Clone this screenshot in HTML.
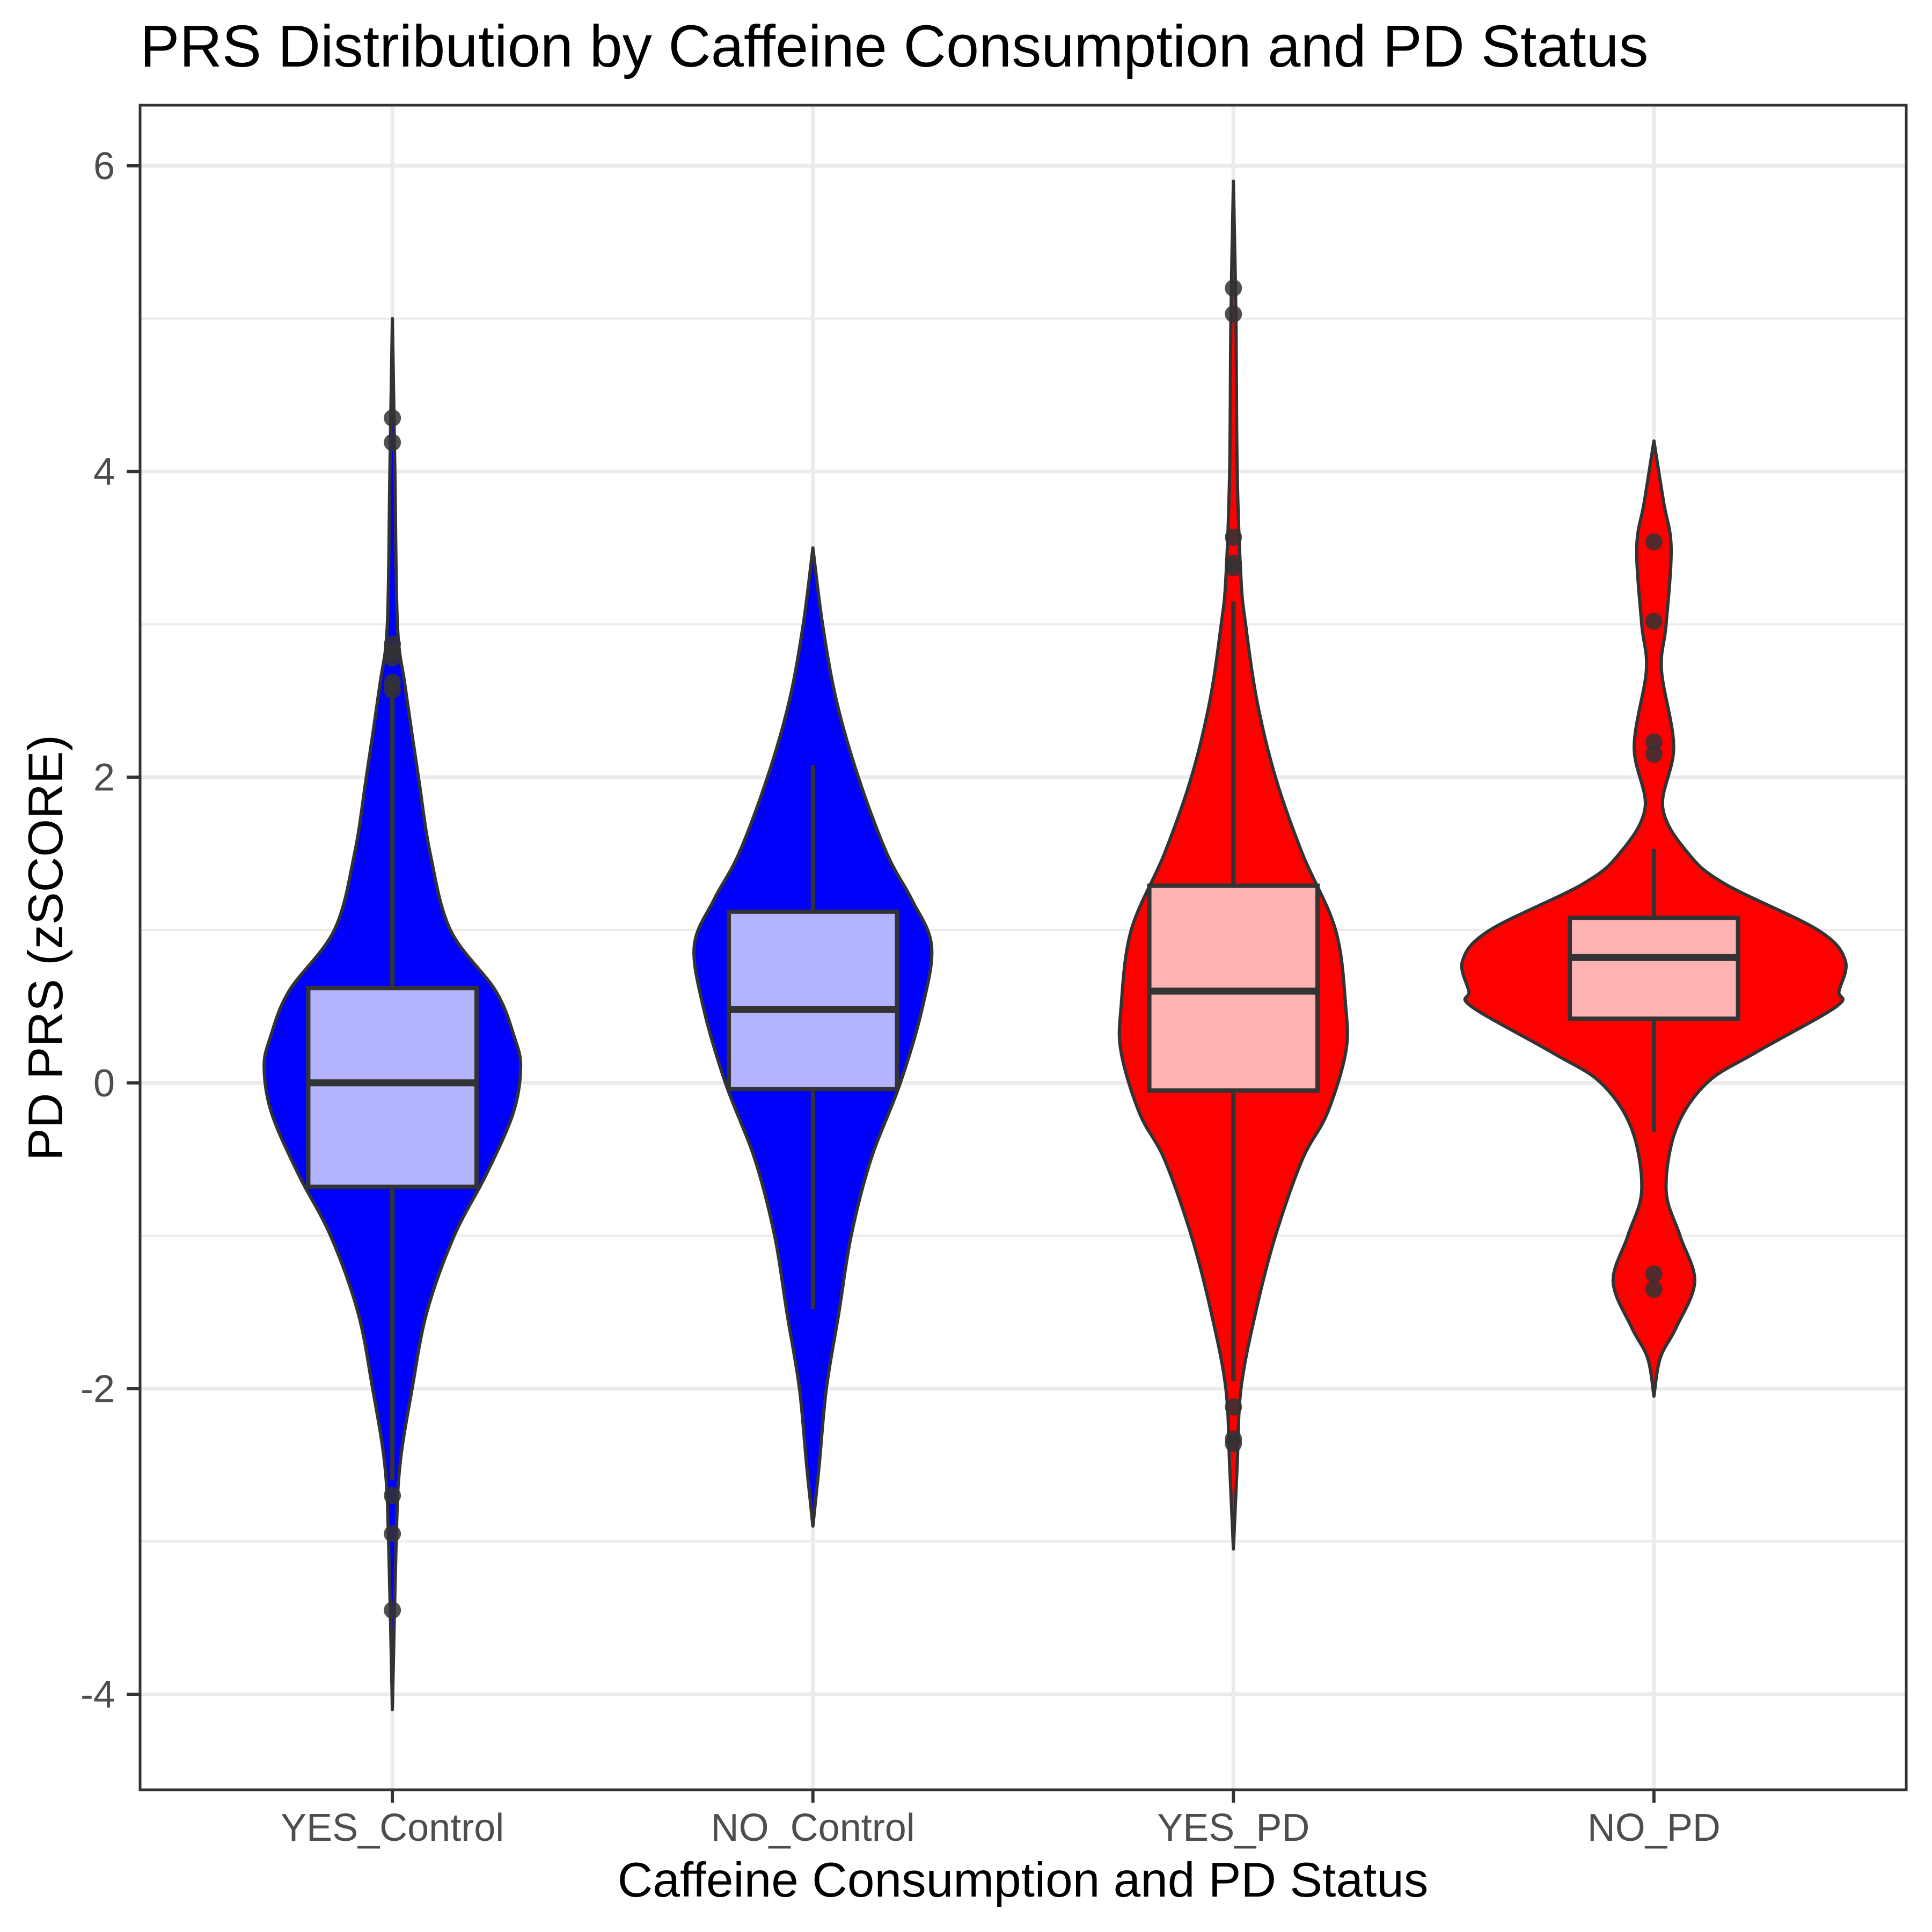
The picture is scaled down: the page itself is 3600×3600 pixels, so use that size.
<!DOCTYPE html>
<html><head><meta charset="utf-8"><style>html,body{margin:0;padding:0;background:#fff}svg{display:block}text{font-family:"Liberation Sans",Arial,sans-serif}</style></head>
<body>
<svg id="chart" width="3600" height="3600" viewBox="0 0 3600 3600" xmlns="http://www.w3.org/2000/svg"></svg>
<script>
const categories = ["YES_Control","NO_Control","YES_PD","NO_PD"];
const fills = ["#0000ff","#0000ff","#ff0000","#ff0000"];
const boxFills = ["#b3b3ff","#b3b3ff","#ffb3b3","#ffb3b3"];
const yTicks = [-4,-2,0,2,4,6];
const yMinor = [-3,-1,1,3,5];
// violin profiles: value levels and half-widths (in category units)
const vioY0 = [5.0,4.0,3.0,2.6,2.0,1.5,1.0,0.6,0.3,0.1,-0.2,-0.6,-1.0,-1.5,-2.0,-2.5,-3.0,-4.1];
const vioW0 = [0,0.006,0.012,0.03,0.062,0.09,0.138,0.246,0.29,0.305,0.287,0.223,0.147,0.082,0.047,0.018,0.009,0];
const vioY1 = [3.5,3.0,2.5,2.0,1.5,1.2,0.9,0.5,0.0,-0.5,-1.0,-1.5,-2.0,-2.5,-2.9];
const vioW1 = [0,0.023,0.056,0.108,0.176,0.235,0.282,0.261,0.208,0.138,0.091,0.062,0.032,0.015,0];
const vioY2 = [5.9,5.0,4.0,3.3,3.0,2.5,2.0,1.5,1.0,0.5,0.2,-0.2,-0.5,-1.0,-1.5,-2.0,-2.5,-3.05];
const vioW2 = [0,0.006,0.009,0.018,0.029,0.056,0.1,0.164,0.243,0.267,0.267,0.223,0.164,0.1,0.053,0.018,0.009,0];
const vioY3 = [4.2,3.8,3.5,3.0,2.7,2.2,1.8,1.5,1.3,1.0,0.8,0.6,0.5,0.2,0.0,-0.3,-0.7,-1.0,-1.3,-1.6,-1.8,-2.05];
const vioW3 = [0,0.023,0.041,0.029,0.018,0.047,0.021,0.082,0.17,0.39,0.455,0.44,0.434,0.243,0.126,0.053,0.029,0.062,0.097,0.053,0.015,0];
const q1 = [-0.68,-0.04,-0.05,0.42];
const med = [0.0,0.48,0.6,0.82];
const q3 = [0.62,1.12,1.29,1.08];
const whiskLo = [-2.6,-1.48,-1.95,-0.32];
const whiskHi = [2.65,2.08,3.15,1.53];
const out0 = [4.35,4.19,2.87,2.82,2.78,2.62,2.57,-2.7,-2.95,-3.45];
const out1 = [];
const out2 = [5.2,5.03,3.57,3.4,3.37,-2.12,-2.33,-2.36];
const out3 = [3.54,3.02,2.23,2.15,-1.25,-1.35];

const vioY=[vioY0,vioY1,vioY2,vioY3], vioW=[vioW0,vioW1,vioW2,vioW3], outs=[out0,out1,out2,out3];
const L=261,R=3552,T=196,B=3335;
const xs=i=>L+(i+0.6)*(R-L)/4.2;
const xw=w=>w*(R-L)/4.2;
const ys=v=>309+(6-v)*(3157-309)/10;
const NS="http://www.w3.org/2000/svg", svg=document.getElementById('chart');
function mk(tag,at,parent){const e=document.createElementNS(NS,tag);for(const k in at)e.setAttribute(k,at[k]);(parent||svg).appendChild(e);return e;}
function crPath(pts){let d="M"+pts[0][0]+","+pts[0][1];for(let i=0;i<pts.length-1;i++){const p0=pts[Math.max(0,i-1)],p1=pts[i],p2=pts[i+1],p3=pts[Math.min(pts.length-1,i+2)];d+=" C"+(p1[0]+(p2[0]-p0[0])/6)+","+(p1[1]+(p2[1]-p0[1])/6)+" "+(p2[0]-(p3[0]-p1[0])/6)+","+(p2[1]-(p3[1]-p1[1])/6)+" "+p2[0]+","+p2[1];}return d;}
// grid
for(const v of yMinor){const e=mk('line',{x1:L,x2:R,y1:ys(v),y2:ys(v),stroke:'#ebebeb','stroke-width':4});}
for(const v of yTicks){const e=mk('line',{x1:L,x2:R,y1:ys(v),y2:ys(v),stroke:'#ebebeb','stroke-width':7});}
categories.forEach((c,i)=>{const e=mk('line',{x1:xs(i),x2:xs(i),y1:T,y2:B,stroke:'#ebebeb','stroke-width':7});});
// violins
categories.forEach((c,i)=>{
  const cx=xs(i),Y=vioY[i],W=vioW[i];
  const right=Y.map((v,k)=>[cx+xw(W[k]),ys(v)]);
  const left=Y.map((v,k)=>[cx-xw(W[k]),ys(v)]).reverse();
  const d=crPath(right)+" L"+crPath(left).slice(1)+" Z";
  const p=mk('path',{d:d,fill:fills[i],stroke:'#333333','stroke-width':6,'stroke-linejoin':'round'});
  
  
  const g=mk('g',{});
  
  
  mk('line',{x1:cx,x2:cx,y1:ys(whiskHi[i]),y2:ys(q3[i]),stroke:'#333','stroke-width':8},g);
  mk('line',{x1:cx,x2:cx,y1:ys(q1[i]),y2:ys(whiskLo[i]),stroke:'#333','stroke-width':8},g);
  const hw=xw(0.2);
  mk('rect',{x:cx-hw,y:ys(q3[i]),width:2*hw,height:ys(q1[i])-ys(q3[i]),fill:boxFills[i],stroke:'#333','stroke-width':8},g);
  mk('line',{x1:cx-hw,x2:cx+hw,y1:ys(med[i]),y2:ys(med[i]),stroke:'#333','stroke-width':13},g);
  outs[i].forEach(v=>{const o=mk('circle',{cx:cx,cy:ys(v),r:16,fill:'#333','fill-opacity':0.85});});
});
// border
const bd=mk('rect',{x:L,y:T,width:R-L,height:B-T,fill:'none',stroke:'#333','stroke-width':5});

// ticks
yTicks.forEach(v=>{mk('line',{x1:236,x2:L,y1:ys(v),y2:ys(v),stroke:'#333','stroke-width':6});
  const t=mk('text',{x:214,y:ys(v)+25,'text-anchor':'end','font-size':72,fill:'#4d4d4d'});t.textContent=String(v);
  });
categories.forEach((c,i)=>{mk('line',{x1:xs(i),x2:xs(i),y1:B,y2:B+24,stroke:'#333','stroke-width':6});
  const t=mk('text',{x:xs(i),y:3430,'text-anchor':'middle','font-size':72,fill:'#4d4d4d'});t.textContent=c;
  });
</script>
<svg style="position:absolute;left:0;top:0" width="3600" height="3600">
<text x="261" y="124" font-size="110" fill="#000">PRS Distribution by Caffeine Consumption and PD Status</text>
<text x="1906" y="3534" text-anchor="middle" font-size="91" fill="#000">Caffeine Consumption and PD Status</text>
<text transform="translate(116,1766) rotate(-90)" text-anchor="middle" font-size="91" fill="#000">PD PRS (zSCORE)</text>
</svg>
</body></html>
